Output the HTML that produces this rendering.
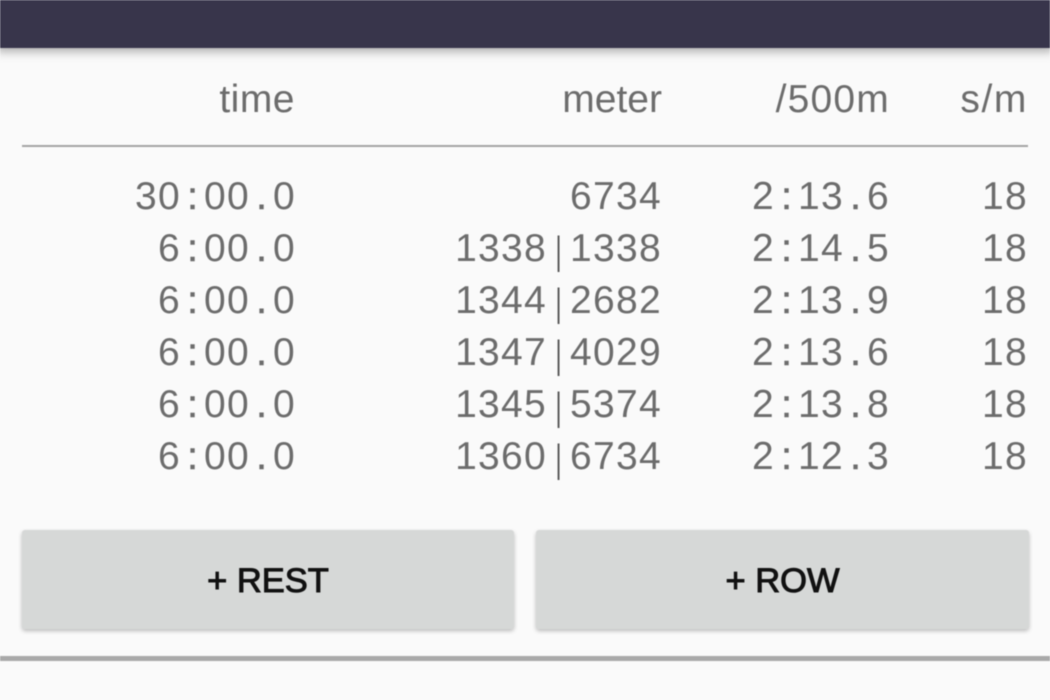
<!DOCTYPE html>
<html><head><meta charset="utf-8"><style>
html,body{margin:0;padding:0;width:1050px;height:700px;overflow:hidden;background:#fafafa}
#app{position:relative;width:1050px;height:700px;overflow:hidden;filter:blur(.5px)}
.bar{position:absolute;left:-4px;top:-4px;width:1058px;height:52px;background:#38354b;box-shadow:0 3px 10px rgba(0,0,0,.35)}
.h,.c{position:absolute;white-space:pre;text-align:right;color:#6c6c6c}
.h{font:39px/44px "Liberation Sans",sans-serif;top:78px}
.c{font:39px/52px "Liberation Sans",sans-serif;letter-spacing:1.3px}
.c i{display:inline-block;width:23px;text-align:center;font-style:normal;letter-spacing:0;-webkit-text-stroke:.6px #6c6c6c}
.c i.p{color:#555;-webkit-text-stroke:0;transform:translateY(3px) scaleX(.6)}
.x1{right:754px}.x2{right:388px}.x3{right:160px}.x4{right:22px}
.h.x1{right:755px}.h.x2{right:388px}.h.x3{right:160px}.h.x4{right:22px}
.rule{position:absolute;left:22px;width:1006px;top:145px;height:2px;background:#a4a4a4}
.btn{position:absolute;top:530px;height:99px;background:#d6d8d7;border-radius:3px;box-shadow:0 2px 4px rgba(0,0,0,.25);text-align:center;font:34.5px/102px "Liberation Sans",sans-serif;color:#111;-webkit-text-stroke:1px #111}
.foot{position:absolute;left:0;width:1050px;top:656px;height:5px;background:#a9a9a9}
</style></head><body>
<div id="app">
<div class="bar"></div>
<div class="h x1" style="letter-spacing:.5px">time</div>
<div class="h x2">meter</div>
<div class="h x3" style="letter-spacing:1.2px">/500m</div>
<div class="h x4" style="letter-spacing:1.6px">s/m</div>
<div class="rule"></div>

<div class="c x1" style="top:171px">30<i>:</i>00<i>.</i>0</div>
<div class="c x2" style="top:171px">6734</div>
<div class="c x3" style="top:171px">2<i>:</i>13<i>.</i>6</div>
<div class="c x4" style="top:171px">18</div>

<div class="c x1" style="top:223px">6<i>:</i>00<i>.</i>0</div>
<div class="c x2" style="top:223px">1338<i class="p">|</i>1338</div>
<div class="c x3" style="top:223px">2<i>:</i>14<i>.</i>5</div>
<div class="c x4" style="top:223px">18</div>

<div class="c x1" style="top:275px">6<i>:</i>00<i>.</i>0</div>
<div class="c x2" style="top:275px">1344<i class="p">|</i>2682</div>
<div class="c x3" style="top:275px">2<i>:</i>13<i>.</i>9</div>
<div class="c x4" style="top:275px">18</div>

<div class="c x1" style="top:327px">6<i>:</i>00<i>.</i>0</div>
<div class="c x2" style="top:327px">1347<i class="p">|</i>4029</div>
<div class="c x3" style="top:327px">2<i>:</i>13<i>.</i>6</div>
<div class="c x4" style="top:327px">18</div>

<div class="c x1" style="top:379px">6<i>:</i>00<i>.</i>0</div>
<div class="c x2" style="top:379px">1345<i class="p">|</i>5374</div>
<div class="c x3" style="top:379px">2<i>:</i>13<i>.</i>8</div>
<div class="c x4" style="top:379px">18</div>

<div class="c x1" style="top:431px">6<i>:</i>00<i>.</i>0</div>
<div class="c x2" style="top:431px">1360<i class="p">|</i>6734</div>
<div class="c x3" style="top:431px">2<i>:</i>12<i>.</i>3</div>
<div class="c x4" style="top:431px">18</div>

<div class="btn" style="left:22px;width:492px">+ REST</div>
<div class="btn" style="left:536px;width:493px">+ ROW</div>
<div class="foot"></div>
</div>
</body></html>
